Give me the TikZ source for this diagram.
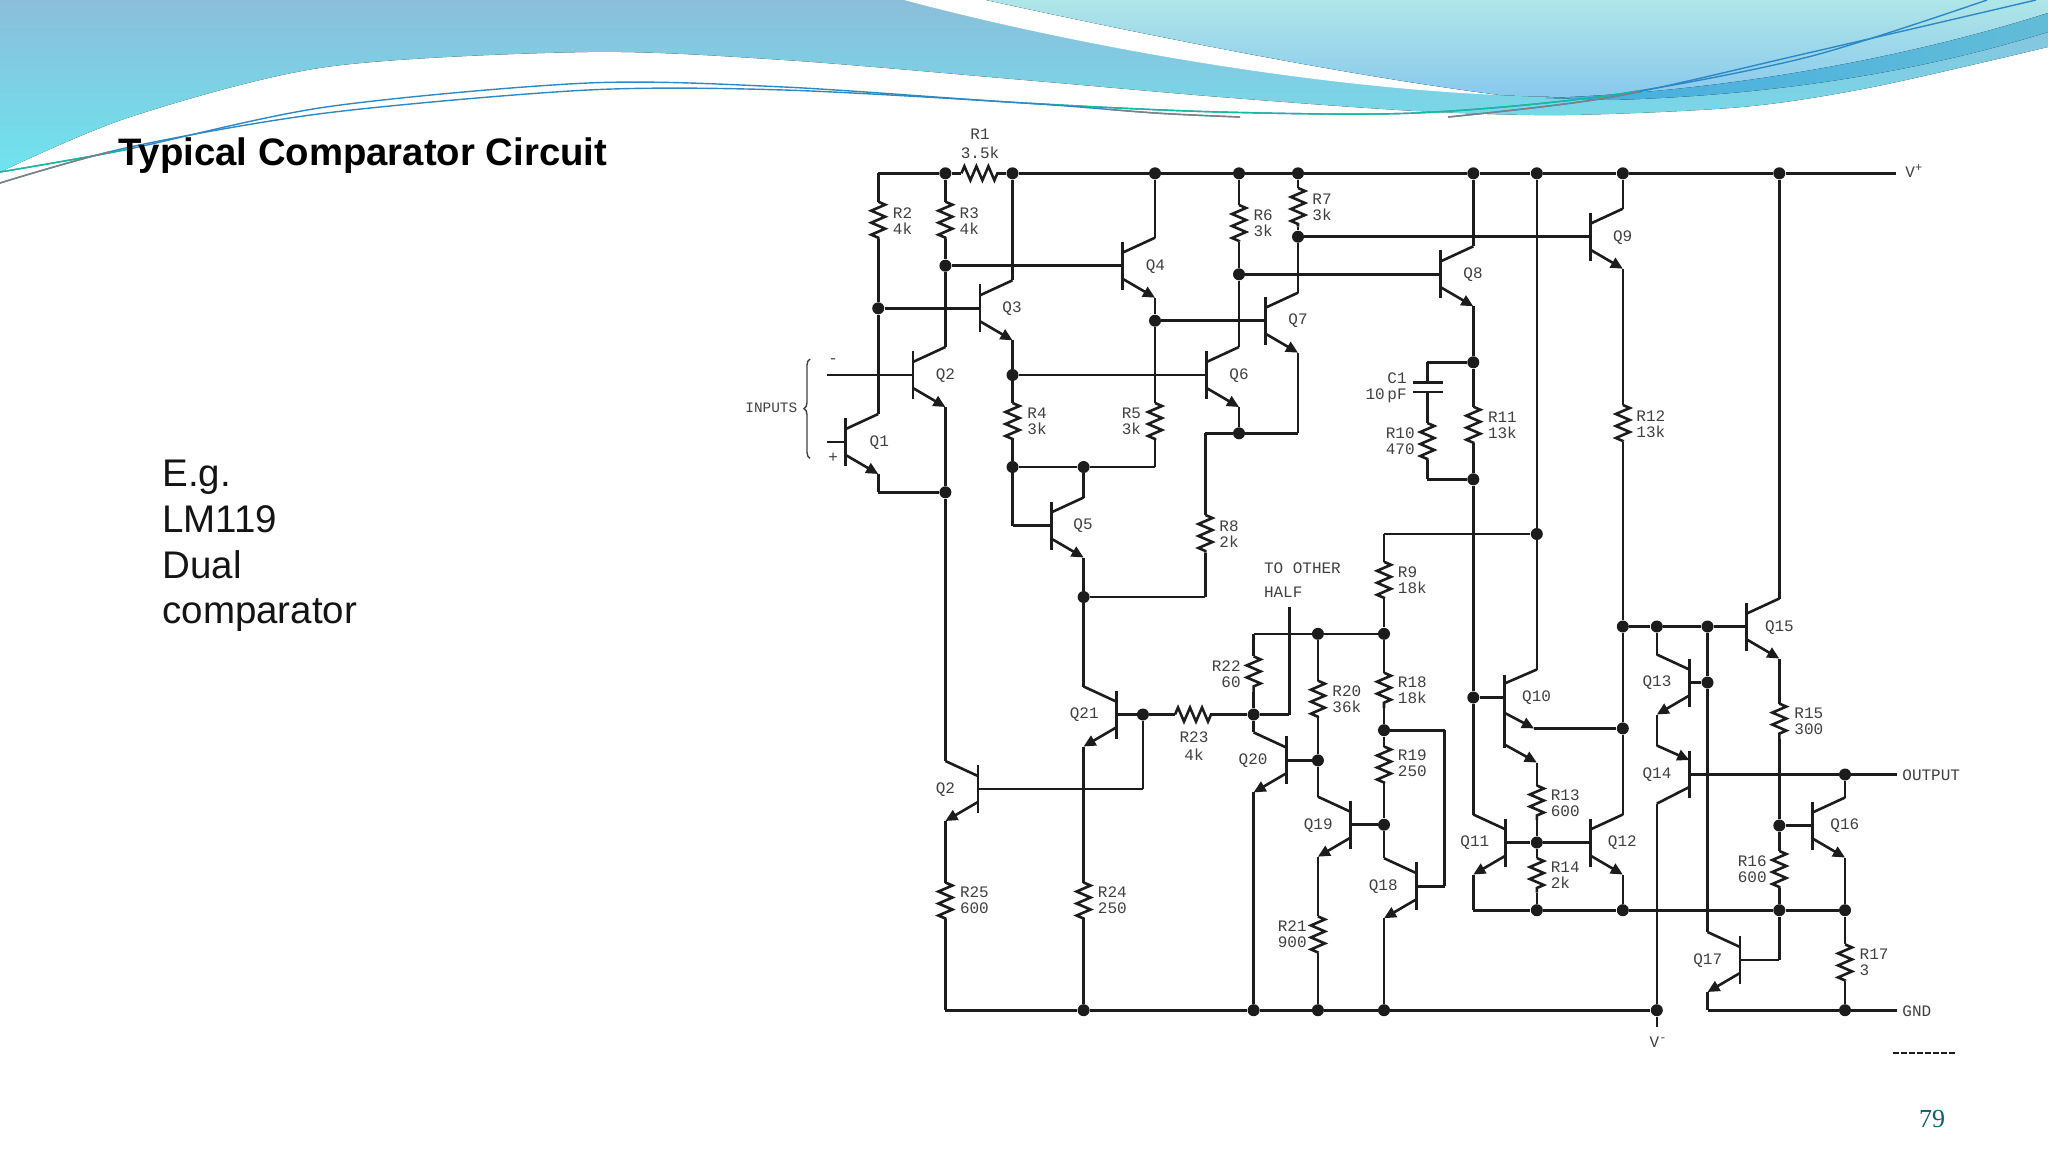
\documentclass[tikz,border=0pt]{standalone}
\usepackage{fontspec}
\setmainfont{Liberation Sans}
\newfontfamily\schemfont{Liberation Mono}
\newfontfamily\pagefont{Liberation Serif}
\usetikzlibrary{arrows.meta,calc,decorations.pathmorphing,decorations.pathreplacing}
\definecolor{wirecolor}{HTML}{1C1C1C}
\definecolor{labelcolor}{HTML}{404040}
\definecolor{swoopteal}{HTML}{14BC9E}
\definecolor{swoopblue}{HTML}{2E88C4}
\begin{document}
\begin{tikzpicture}
[x=0.5pt,y=-0.5pt,
  nodedecorate/.style={shape=circle,inner sep=0pt,minimum size=6pt,fill=wirecolor},%
  linedecorate/.style={-,line width=1.3pt,draw=wirecolor,line join=miter},%
  bardecorate/.style={-,line width=1.4pt,draw=wirecolor},%
  tipdecorate/.style={linedecorate,-{Triangle[length=6pt,width=5.5pt]}},%
  resdecorate/.style={linedecorate,decorate,decoration={zigzag,amplitude=3.5pt,segment length=6pt}},%
  labeldecorate/.style={inner sep=0pt,text=labelcolor,font=\schemfont\fontsize{8}{8}\selectfont}]
\useasboundingbox (0,0) rectangle (2048,1152);
\fill[white] (0,0) rectangle (2048,1152);
%% swooshes at the top
\fill[top color={rgb,255:red,139;green,190;blue,219},
  bottom color={rgb,255:red,110;green,228;blue,238}]
  plot[smooth] coordinates {(0,172) (130,117) (326,67) (588,52) (784,60) (1024,80) (1220,97) (1416,111)
    (1566,115) (1742,107) (1873,87) (2048,47)}
  -- (2048,0) -- (0,0) -- cycle;
\fill[white] (904,0) .. controls (1100,52) and (1330,88) .. (1500,95)
  .. controls (1350,76) and (1150,36) .. (986,0) -- cycle;
\fill[top color={rgb,255:red,175;green,230;blue,232},bottom color={rgb,255:red,133;green,198;blue,238}]
  (986,0) .. controls (1150,36) and (1350,76) .. (1500,95)
  .. controls (1680,105) and (1860,75) .. (2048,13) -- (2048,0) -- cycle;
\fill[left color={rgb,255:red,68;green,174;blue,224},right color={rgb,255:red,98;green,188;blue,216}]
  (1546,98) .. controls (1720,92) and (1900,60) .. (2048,13) -- (2048,32)
  .. controls (1900,78) and (1750,96) .. (1612,100) -- cycle;
\draw[line width=0.7pt,draw=swoopblue] plot[smooth] coordinates {(0,172) (124,150) (326,107)
  (588,83) (784,87) (1024,103) (1220,112) (1416,113) (1612,95) (1808,57) (1987,0)};
\begin{scope}
\clip (0,0) rectangle (130,200) (1030,0) rectangle (1640,200);
\draw[line width=0.7pt,draw=swoopteal] plot[smooth] coordinates {(0,172) (124,150) (326,107)
  (588,83) (784,87) (1024,103) (1220,112) (1416,113) (1612,95) (1808,57) (1987,0)};
\end{scope}
\draw[line width=0.7pt,draw=swoopblue] plot[smooth] coordinates {(0,183) (130,147) (326,113)
  (588,90) (784,90) (1024,103) (1155,113) (1240,117)};
\draw[line width=0.7pt,draw=swoopblue] plot[smooth] coordinates {(1448,117) (1612,97) (1808,53) (2036,0)};
\begin{scope}
\clip (0,0) rectangle (110,200) (1110,0) rectangle (1240,200) (1448,0) rectangle (1640,200);
\draw[line width=0.7pt,draw=gray] plot[smooth] coordinates {(0,183) (130,147) (326,113)
  (588,90) (784,90) (1024,103) (1155,113) (1240,117)};
\draw[line width=0.7pt,draw=gray] plot[smooth] coordinates {(1448,117) (1612,97) (1808,53) (2036,0)};
\end{scope}
%% slide texts
\node (title) at (118,156) [anchor=west,inner sep=0pt,text=black,font=\bfseries\fontsize{19.15}{19.15}\selectfont] {Typical Comparator Circuit};
\node (example) at (162,546) [anchor=west,inner sep=0pt,align=left,text={rgb,255:red,20;green,20;blue,20},font=\fontsize{19.25}{22.9}\selectfont] {E.g.\\LM119\\Dual\\comparator};
\node (pagenum) at (1932,1119) [inner sep=0pt,text={rgb,255:red,15;green,95;blue,112},font=\pagefont\fontsize{13}{13}\selectfont] {79};
%% nodes or vertices
\foreach \nodename/\x/\y in {v1/945.4/173.3, v2/1012.5/173.3, v3/1155/173.3, v4/1239/173.3, v5/1298/173.3,
  v6/1473.3/173.3, v7/1536.8/173.3, v8/1622.8/173.3, v9/1779.3/173.3,
  a/945.4/265.7, b/878.2/308.3, c/1012.5/375, d/1155/320.7, e/1239/274.3, f/1298/236.7,
  g/1239/433.3, h/1012.5/467, i/1083.6/467, j/945.4/492.3, k/1083.6/597,
  l/1473.3/362.3, m/1473.3/479.3, n/1536.8/534, o/1384/633.8, p/1317.9/633.8,
  q/1253.6/714.5, r/1142.9/714.5, s/1384/730.2, t/1317.9/760.4, u/1384/824.7,
  w/1473.3/697.5, z/1622.8/728.4, x1/1622.8/626.5, x2/1656.8/626.5, x3/1707.5/626.5, x4/1707.5/682.5,
  y1/1083.6/1010.2, y2/1253.6/1010.2, y3/1317.9/1010.2, y4/1384/1010.2, y5/1656.8/1010.2, y6/1845/1010.2,
  b1/1536.8/842.5, b2/1536.8/910.2, b3/1622.8/910.2, b4/1779.3/910.2, b5/1845/910.2,
  o1/1845/774.5, o2/1779.3/825.5} {
  \node (\nodename) at (\x,\y) [nodedecorate] {};
}
%% corners and free ends
\foreach \nodename/\x/\y in {tl/878.2/173.3, railend/1896/173.3, inm/827/375, inp/827/442,
  cr5/1155/467, cq5/1012.5/525.5, cr8t/1205.4/433.3, cr8b/1205.4/597, cq7/1298/433.3,
  cc1t/1427.3/362.3, cc1a/1427.3/382.7, cc1b/1427.3/392, cc1d/1427.3/479.3,
  pl1/1413/382.7, pr1/1443/382.7, pl2/1413/392, pr2/1443/392,
  cq1/878.2/492.3, cr9/1384/534, cr22/1253.6/633.8, cq18a/1444.6/730.2, cq18b/1444.6/886.2,
  half/1289.3/607.3, chalf/1289.3/714.5, cq2/1142.9/789, bl/945.4/1010.2, vminus/1656.8/1027.3,
  cq17/1779.3/960, cq17e/1707.5/1010.2, gndend/1896.8/1010.2, outend/1896.8/774.5, cq11/1473.3/910.2} {
  \coordinate (\nodename) at (\x,\y);
}
%% resistors, vertical ones first
\foreach \resname/\x/\ya/\yb in {R2/878.2/201.7/239.3, R3/945.4/201.7/239.3, R4/1012.5/403/440, R5/1155/403/440,
  R6/1239/205/241.7, R7/1298/188/226.7, R8/1205.4/515/552.7, R9/1384/561.8/598, R10/1427.3/423/460,
  R11/1473.3/406.7/443.3, R12/1622.8/405/441.7, R13/1536.8/785.5/820, R14/1536.8/858/892.7,
  R15/1779.3/703.6/739.3, R16/1779.3/851/888.4, R17/1845/944.4/980.7, R18/1384/672.7/708, R19/1384/746.5/783,
  R20/1317.9/680.7/718, R21/1317.9/916.4/952.7, R22/1253.6/656.4/692, R24/1083.6/882.5/919, R25/945.4/882.5/919} {
  \coordinate (\resname a) at (\x,\ya);
  \coordinate (\resname b) at (\x,\yb);
  \draw[resdecorate] (\resname a) -- (\resname b);
}
\foreach \resname/\xa/\xb/\y in {R1/961.4/997.9/173.3, R23/1175/1211.8/714.5} {
  \coordinate (\resname a) at (\xa,\y);
  \coordinate (\resname b) at (\xb,\y);
  \draw[resdecorate] (\resname a) -- (\resname b);
}
%% transistors
\foreach \qname/\x/\y/\s in {Q1/845.7/442/1, Q2/912.9/375/1, Q3/980/308.3/1, Q4/1122.5/265.7/1, Q5/1051.1/525.5/1,
  Q6/1206.5/375/1, Q7/1265.5/320.7/1, Q8/1440.8/274.3/1, Q9/1590.3/236.7/1, Q11/1505.8/842.5/-1, Q12/1590.3/842.5/1,
  Q13/1689.3/682.5/-1, Q15/1746.8/626.5/1, Q16/1812.5/825.5/1, Q17/1740/960/-1, Q18/1416.5/886.2/-1,
  Q19/1350.4/824.7/-1, Q20/1286.1/760.4/-1, Q21/1116.1/714.5/-1, Qlow/977.9/789/-1} {
  \coordinate (\qname b) at (\x,\y);
  \coordinate (\qname c) at (\x+\s*32.5,\y-28);
  \coordinate (\qname e) at (\x+\s*32.5,\y+32);
  \draw[bardecorate] (\x,\y-24) -- (\x,\y+24);
  \draw[linedecorate] (\x,\y-13) -- (\qname c);
  \draw[tipdecorate] (\x,\y+13) -- (\qname e);
}
% Q14 has its tip on the upper lead, Q10 has two emitters
\coordinate (Q14b) at (1689.3,774.5);
\coordinate (Q14e) at (1656.8,745.5);
\coordinate (Q14c) at (1656.8,803.6);
\draw[bardecorate] (1689.3,751) -- (1689.3,798);
\draw[tipdecorate] (Q14e) -- (1689.3,760);
\draw[linedecorate] (1689.3,787) -- (Q14c);
\coordinate (Q10b) at (1504.3,697.5);
\coordinate (Q10c) at (1536.8,669.5);
\coordinate (Q10e) at (1534,728.4);
\coordinate (Q10f) at (1536.8,762.5);
\draw[bardecorate] (1504.3,674.5) -- (1504.3,748);
\draw[linedecorate] (1504.3,683.6) -- (Q10c);
\draw[tipdecorate] (1504.3,712.7) -- (Q10e);
\draw[tipdecorate] (1504.3,744.4) -- (Q10f);
%% capacitor plates
\draw[bardecorate] (pl1) -- (pr1);
\draw[bardecorate] (pl2) -- (pr2);
%% edges or lines
\path
\foreach \startnode/\endnode in {tl/v1, v1/R1a, R1b/v2, v2/v3, v3/v4, v4/v5, v5/v6, v6/v7, v7/v8, v8/v9, v9/railend,
  tl/R2a, R2b/b, b/Q1c, Q1e/cq1, cq1/j, v1/R3a, R3b/a, a/Q2c, Q2e/j, j/Qlowc, inm/Q2b, inp/Q1b,
  v2/Q3c, b/Q3b, a/Q4b, v3/Q4c, Q4e/d, d/R5a, R5b/cr5, cr5/i, d/Q7b, Q3e/c, c/R4a, R4b/h, h/i, h/cq5, cq5/Q5b,
  i/Q5c, Q5e/k, k/Q21c, c/Q6b, v4/R6a, R6b/e, e/Q6c, e/Q8b, Q6e/g, g/cr8t, cr8t/R8a, R8b/cr8b, cr8b/k,
  g/cq7, cq7/Q7e, v5/R7a, R7b/f, f/Q7c, f/Q9b, v8/Q9c, v6/Q8c, Q8e/l, l/R11a, R11b/m, m/w, w/Q11c, w/Q10b,
  l/cc1t, cc1t/cc1a, cc1b/R10a, R10b/cc1d, cc1d/m, v7/n, n/Q10c, n/cr9, cr9/R9a, R9b/o, o/p, p/cr22, cr22/R22a, R22b/q,
  o/R18a, R18b/s, s/R19a, R19b/u, u/Q18c, p/R20a, R20b/t, t/Q19c, u/Q19b, t/Q20b, q/Q20c, Q20e/y2,
  s/cq18a, cq18a/cq18b, cq18b/Q18b, Q18e/y4, Q19e/R21a, R21b/y3, q/chalf, chalf/half, q/R23b, r/R23a, r/Q21b, r/cq2, cq2/Qlowb,
  Qlowe/R25a, R25b/bl, bl/y1, Q21e/R24a, R24b/y1, y1/y2, y2/y3, y3/y4, y4/y5, y5/vminus, Q14c/y5,
  Q13e/Q14e, Q13c/x2, Q13b/x4, Q9e/R12a, R12b/x1, x1/z, z/Q10e, z/Q12c, x1/x2, x2/x3, x3/Q15b, x3/x4, x4/Q17c,
  Q17b/cq17, cq17/b4, Q17e/cq17e, cq17e/y6, y6/gndend, v9/Q15c, Q15e/R15a, R15b/o2, o2/R16a, R16b/b4,
  o2/Q16b, Q16c/o1, Q14b/o1, o1/outend, Q16e/b5, b5/R17a, R17b/y6, cq11/b2, b2/b3, b3/b4, b4/b5, Q11e/cq11,
  Q10f/R13a, R13b/b1, b1/R14a, R14b/b2, Q11b/b1, b1/Q12b, Q12e/b3} {
  (\startnode) edge[linedecorate] node {} (\endnode)
};
%% brace of the inputs
\coordinate (bracetop) at (810,359);
\coordinate (bracebot) at (810,458.3);
\draw[line width=0.7pt,draw=labelcolor,decorate,decoration={brace,amplitude=3pt}] (bracebot) -- (bracetop);
%% labels
\foreach \labelname/\x/\y/\labeltext in {lR2/892.5/220.7/{R2\\4k}, lR3/959.3/220.7/{R3\\4k}, lR6/1253.2/223.3/{R6\\3k},
  lR4/1027/421.7/{R4\\3k}, lR7/1312/207.3/{R7\\3k}, lR8/1219/534.5/{R8\\2k}, lR9/1397.5/580.7/{R9\\18k},
  lR11/1487.6/425/{R11\\13k}, lR12/1636/424/{R12\\13k}, lR13/1550.4/803/{R13\\600}, lR14/1550.4/875.3/{R14\\2k},
  lR15/1794/721/{R15\\300}, lR17/1859.3/961.8/{R17\\3}, lR18/1397.5/689.8/{R18\\18k}, lR19/1397.5/763.6/{R19\\250},
  lR20/1332/699/{R20\\36k}, lR24/1097.5/900/{R24\\250}, lR25/959.6/900/{R25\\600},
  lQ1/869.3/442.7/Q1, lQ2/935.4/375.7/Q2, lQ3/1002/308.3/Q3, lQ4/1145.4/266.7/Q4, lQ5/1073/525.5/Q5,
  lQ6/1229/375.7/Q6, lQ7/1288/320.7/Q7, lQ8/1463/275/Q8, lQ9/1612.6/237.3/Q9, lQ10/1521.8/697.5/Q10,
  lQ12/1607.5/843/Q12, lQ15/1764.6/627.3/Q15, lQ16/1830/825.5/Q16,
  linputs/745/407.3/{\fontsize{7.2}{8}\selectfont INPUTS}, lminus/828/360.7/-, lplus/828/457.7/+, lhalf/1263.6/580/{TO OTHER\\[4pt]HALF},
  lvp/1905/171/{V\textsuperscript{+}}, loutput/1902/775.3/OUTPUT, lgnd/1902/1011/GND} {
  \node (\labelname) at (\x,\y) [labeldecorate,anchor=west,align=left] {\labeltext};
}
\foreach \labelname/\x/\y/\labeltext in {lR5/1141.4/421.7/{R5\\3k}, lR10/1415/441.7/{R10\\470}, lR16/1767/869/{R16\\600},
  lR21/1307/933.8/{R21\\900}, lR22/1241/673.8/{R22\\60}, lC1/1407/388/{C1\\10\,pF},
  lQ11/1489.6/843/Q11, lQ13/1671.8/682.5/Q13, lQ14/1671.8/774.5/Q14, lQ17/1722.5/960.7/Q17, lQ18/1398/886.2/Q18,
  lQ19/1333/825.5/Q19, lQ20/1267.9/760.7/Q20, lQ21/1099/715/Q21, lQlow/955.4/789.8/Q2} {
  \node (\labelname) at (\x,\y) [labeldecorate,anchor=east,align=right] {\labeltext};
}
\foreach \labelname/\x/\y/\labeltext in {lR1/980/143.7/{R1\\[1.5pt]3.5k}, lR23/1194/746.5/{R23\\[1pt]4k},
  lvm/1658.6/1041.8/{V\textsuperscript{-}}} {
  \node (\labelname) at (\x,\y) [labeldecorate,align=center] {\labeltext};
}
%% cut off mark at the bottom right
\coordinate (marka) at (1893,1052.7);
\coordinate (markb) at (1955,1052.7);
\draw[line width=0.8pt,draw=wirecolor,dash pattern=on 3pt off 1pt] (marka) -- (markb);
\end{tikzpicture}
\end{document}
